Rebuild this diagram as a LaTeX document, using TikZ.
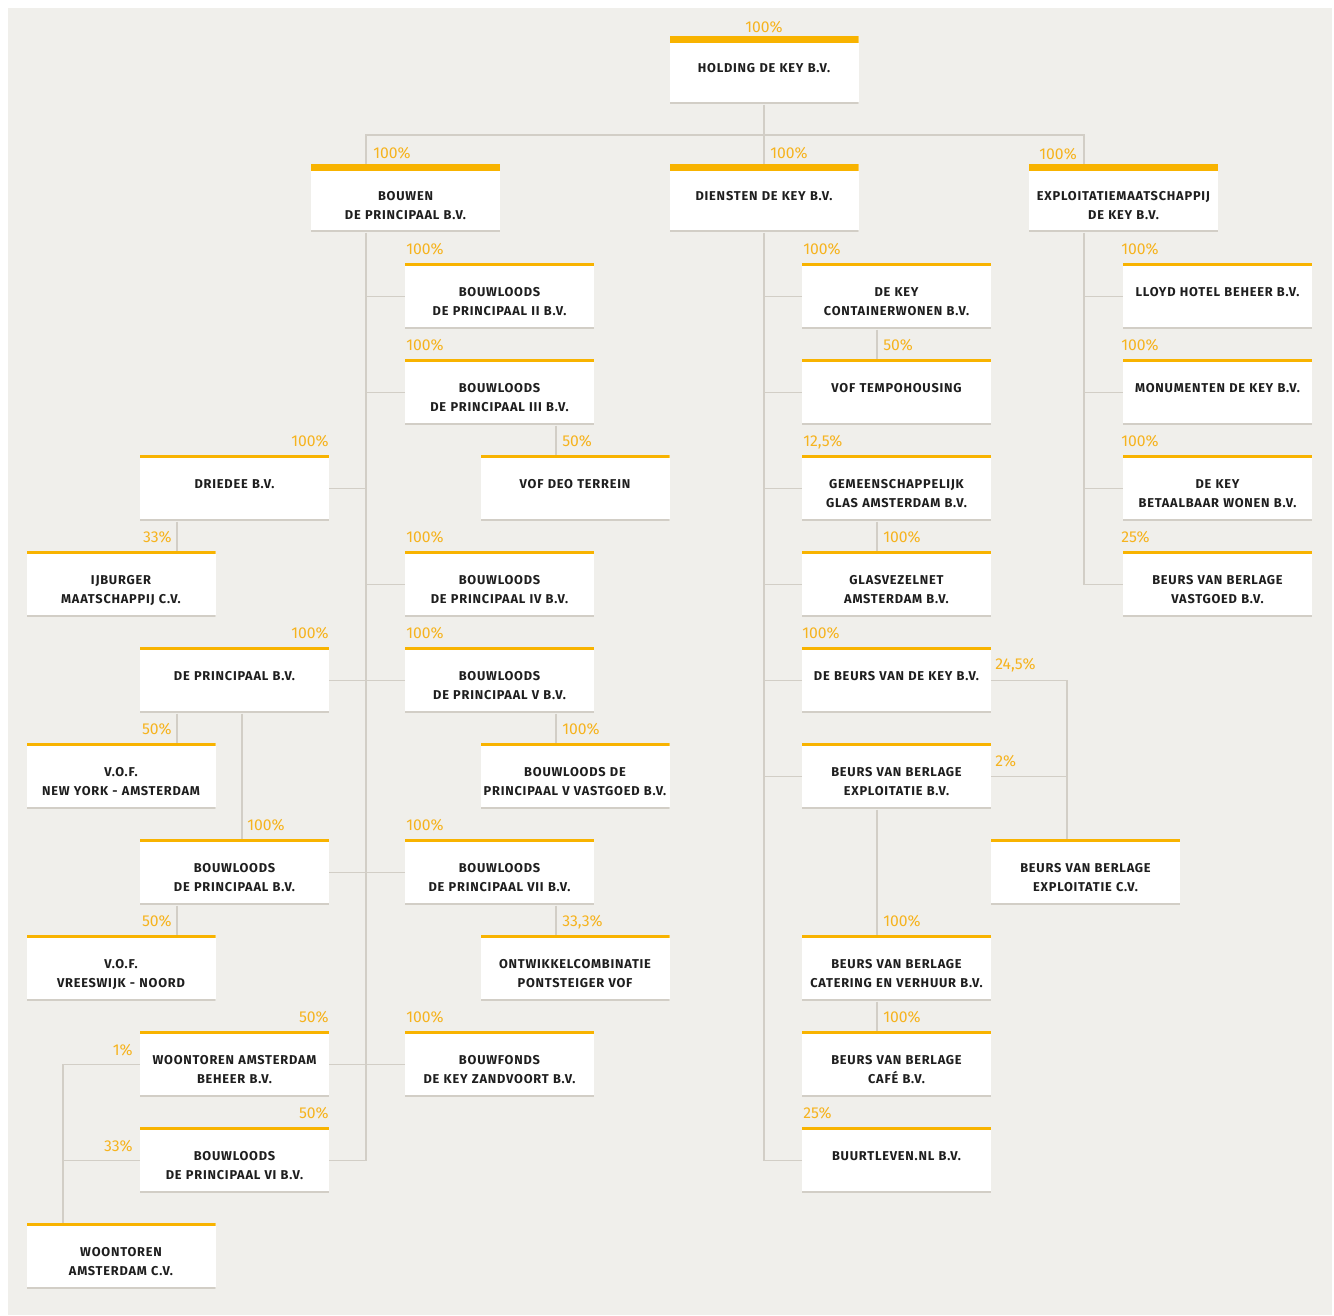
\documentclass[tikz,border=0pt]{standalone}
\usepackage{fontspec}
\setmainfont{Fira Sans}
\newfontfamily\boxfont[LetterSpace=6]{Fira Sans}
\usetikzlibrary{backgrounds}
\pgfdeclarelayer{canvasfill}
\pgfsetlayers{canvasfill,background,main}
\definecolor{bg}{HTML}{F0EFEB}
\definecolor{bar}{HTML}{F8B300}
\definecolor{pctc}{HTML}{F6B31E}
\definecolor{edge}{HTML}{D2CEC6}
\definecolor{txt}{HTML}{1E1E1E}
\begin{document}
\begin{tikzpicture}[x=0.75pt,y=-0.75pt,
  box/.style={anchor=north, fill=white, inner sep=0pt, text width=141.75pt, align=center,
    font=\boxfont\bfseries\fontsize{9.6}{14}\selectfont, text=txt,
    text height=25.2pt, text depth=24.3pt,
    path picture={\fill[bar] (path picture bounding box.north west) rectangle ([yshift=-2.4pt]path picture bounding box.north east);
      \fill[edge] ([yshift=2pt]path picture bounding box.south west) rectangle (path picture bounding box.south east);}},
  bigbox/.style={box, text height=27.4pt, text depth=23.6pt,
    path picture={\fill[bar] (path picture bounding box.north west) rectangle ([yshift=-5.25pt]path picture bounding box.north east);
      \fill[edge] ([yshift=2pt]path picture bounding box.south west) rectangle (path picture bounding box.south east);}},
  pct/.style={inner sep=0pt, text=pctc, font=\fontsize{11.8}{13}\selectfont},
  pw/.style={pct, anchor=base west},
  pe/.style={pct, anchor=base east},
  conn/.style={draw=edge, line width=1.1pt}
]
\useasboundingbox (0,0) rectangle (1334,1315);
\begin{pgfonlayer}{canvasfill}
\fill[bg] (8,8) rectangle (1332,1315);
\end{pgfonlayer}

% ---- top levels
\node[bigbox] (holding) at (764,36) {HOLDING DE KEY B.V.};
\node[bigbox] (bouwen) at (405.5,164) {BOUWEN\\DE PRINCIPAAL B.V.};
\node[bigbox] (diensten) at (764,164) {DIENSTEN DE KEY B.V.};
\node[bigbox] (expl) at (1123.5,164) {EXPLOITATIEMAATSCHAPPIJ\\DE KEY B.V.};

% ---- column C
\node[box] (bII) at (499.5,263) {BOUWLOODS\\DE PRINCIPAAL II B.V.};
\node[box] (bIII) at (499.5,359) {BOUWLOODS\\DE PRINCIPAAL III B.V.};
\node[box] (bIV) at (499.5,551) {BOUWLOODS\\DE PRINCIPAAL IV B.V.};
\node[box] (bV) at (499.5,647) {BOUWLOODS\\DE PRINCIPAAL V B.V.};
\node[box] (bVII) at (499.5,839) {BOUWLOODS\\DE PRINCIPAAL VII B.V.};
\node[box] (bouwfonds) at (499.5,1031) {BOUWFONDS\\DE KEY ZANDVOORT B.V.};
% ---- column D
\node[box] (deo) at (575,455) {VOF DEO TERREIN};
\node[box] (vastgoed) at (575,743) {BOUWLOODS DE\\PRINCIPAAL V VASTGOED B.V.};
\node[box] (ontw) at (575,935) {ONTWIKKELCOMBINATIE\\PONTSTEIGER VOF};
% ---- column B
\node[box] (driedee) at (234.5,455) {DRIEDEE B.V.};
\node[box] (deprin) at (234.5,647) {DE PRINCIPAAL B.V.};
\node[box] (bdp) at (234.5,839) {BOUWLOODS\\DE PRINCIPAAL B.V.};
\node[box] (wab) at (234.5,1031) {WOONTOREN AMSTERDAM\\BEHEER B.V.};
\node[box] (bVI) at (234.5,1127) {BOUWLOODS\\DE PRINCIPAAL VI B.V.};
% ---- column A
\node[box] (ijburger) at (121,551) {IJBURGER\\MAATSCHAPPIJ C.V.};
\node[box] (vofny) at (121,743) {V.O.F.\\NEW YORK - AMSTERDAM};
\node[box] (vofvr) at (121,935) {V.O.F.\\VREESWIJK - NOORD};
\node[box] (wac) at (121,1223) {WOONTOREN\\AMSTERDAM C.V.};
% ---- column E
\node[box] (container) at (896.5,263) {DE KEY\\CONTAINERWONEN B.V.};
\node[box] (tempo) at (896.5,359) {VOF TEMPOHOUSING};
\node[box] (glas) at (896.5,455) {GEMEENSCHAPPELIJK\\GLAS AMSTERDAM B.V.};
\node[box] (glasvezel) at (896.5,551) {GLASVEZELNET\\AMSTERDAM B.V.};
\node[box] (beurskey) at (896.5,647) {DE BEURS VAN DE KEY B.V.};
\node[box] (bvbexp) at (896.5,743) {BEURS VAN BERLAGE\\EXPLOITATIE B.V.};
\node[box] (catering) at (896.5,935) {BEURS VAN BERLAGE\\CATERING EN VERHUUR B.V.};
\node[box] (cafe) at (896.5,1031) {BEURS VAN BERLAGE\\CAFÉ B.V.};
\node[box] (buurt) at (896.5,1127) {BUURTLEVEN.NL B.V.};
% ---- column F
\node[box] (bvbcv) at (1085.5,839) {BEURS VAN BERLAGE\\EXPLOITATIE C.V.};
% ---- column G
\node[box] (lloyd) at (1217.5,263) {LLOYD HOTEL BEHEER B.V.};
\node[box] (monu) at (1217.5,359) {MONUMENTEN DE KEY B.V.};
\node[box] (betaal) at (1217.5,455) {DE KEY\\BETAALBAAR WONEN B.V.};
\node[box] (bvbvg) at (1217.5,551) {BEURS VAN BERLAGE\\VASTGOED B.V.};

% ---- percentages
\node[pct, anchor=base] (p0) at (764,32) {100\%};
\node[pw] (p1) at (373,158) {100\%};
\node[pw] (p2) at (770,158) {100\%};
\node[pe] (p3) at (1077,159.5) {100\%};
\node[pw] (p4) at (406,254.5) {100\%};
\node[pw] (p5) at (406,350.5) {100\%};
\node[pw] (p6) at (562,446.5) {50\%};
\node[pe] (p7) at (329,446.5) {100\%};
\node[pe] (p8) at (172,542.5) {33\%};
\node[pw] (p9) at (406,542.5) {100\%};
\node[pe] (p10) at (329,638.5) {100\%};
\node[pw] (p11) at (406,638.5) {100\%};
\node[pe] (p12) at (172,734.5) {50\%};
\node[pw] (p13) at (562,734.5) {100\%};
\node[pw] (p14) at (247,830.5) {100\%};
\node[pw] (p15) at (406,830.5) {100\%};
\node[pe] (p16) at (172,926.5) {50\%};
\node[pw] (p17) at (562,926.5) {33,3\%};
\node[pe] (p18) at (329,1022.5) {50\%};
\node[pw] (p19) at (406,1022.5) {100\%};
\node[pe] (p20) at (133,1055) {1\%};
\node[pe] (p21) at (329,1118.5) {50\%};
\node[pe] (p22) at (133,1151) {33\%};
\node[pw] (p23) at (803,254.5) {100\%};
\node[pw] (p24) at (883,350.5) {50\%};
\node[pw] (p25) at (803,446.5) {12,5\%};
\node[pw] (p26) at (883,542.5) {100\%};
\node[pw] (p27) at (802,638.5) {100\%};
\node[pw] (p28) at (995,669) {24,5\%};
\node[pw] (p29) at (995,766) {2\%};
\node[pw] (p30) at (883,926.5) {100\%};
\node[pw] (p31) at (883,1022.5) {100\%};
\node[pw] (p32) at (803,1118.5) {25\%};
\node[pw] (p33) at (1121,254.5) {100\%};
\node[pw] (p34) at (1121,350.5) {100\%};
\node[pw] (p35) at (1121,446.5) {100\%};
\node[pw] (p36) at (1121,542.5) {25\%};

% ---- connector guide coordinates
\coordinate (xB) at (366,135);
\coordinate (xE) at (1084,135);
\coordinate (xC) at (556,0);
\coordinate (xA) at (177,0);
\coordinate (xP) at (242,0);
\coordinate (xW) at (63,0);
\coordinate (xK) at (877,0);
\coordinate (xF) at (1067,0);

\begin{pgfonlayer}{background}
\path[conn] (holding.south) -- (holding.south |- xB);
\path[conn] (bouwen.north -| xB) -- (xB) -- (xE) -- (expl.north -| xE);
\path[conn] (diensten.north) -- (diensten.north |- xB);
% Bouwen spine
\path[conn] (bouwen.south -| xB) |- (bVI.east);
\path[conn] (xB |- bII.west) -- (bII.west);
\path[conn] (xB |- bIII.west) -- (bIII.west);
\path[conn] (driedee.east) -- (xB |- driedee.east);
\path[conn] (xB |- bIV.west) -- (bIV.west);
\path[conn] (deprin.east) -- (bV.west);
\path[conn] (bdp.east) -- (bVII.west);
\path[conn] (wab.east) -- (bouwfonds.west);
\path[conn] (xC |- bIII.south) -- (xC |- deo.north);
\path[conn] (xC |- bV.south) -- (xC |- vastgoed.north);
\path[conn] (xC |- bVII.south) -- (xC |- ontw.north);
\path[conn] (xA |- driedee.south) -- (xA |- ijburger.north);
\path[conn] (xA |- deprin.south) -- (xA |- vofny.north);
\path[conn] (xP |- deprin.south) -- (xP |- bdp.north);
\path[conn] (xA |- bdp.south) -- (xA |- vofvr.north);
\path[conn] (wab.west) -| (xW |- wac.north);
\path[conn] (bVI.west) -- (xW |- bVI.west);
% Diensten spine
\path[conn] (diensten.south) |- (buurt.west);
\path[conn] (diensten.south |- container.west) -- (container.west);
\path[conn] (diensten.south |- tempo.west) -- (tempo.west);
\path[conn] (diensten.south |- glas.west) -- (glas.west);
\path[conn] (diensten.south |- glasvezel.west) -- (glasvezel.west);
\path[conn] (diensten.south |- beurskey.west) -- (beurskey.west);
\path[conn] (diensten.south |- bvbexp.west) -- (bvbexp.west);
\path[conn] (xK |- container.south) -- (xK |- tempo.north);
\path[conn] (xK |- glas.south) -- (xK |- glasvezel.north);
\path[conn] (xK |- bvbexp.south) -- (xK |- catering.north);
\path[conn] (xK |- catering.south) -- (xK |- cafe.north);
\path[conn] (beurskey.east) -| (xF |- bvbcv.north);
\path[conn] (bvbexp.east) -- (xF |- bvbexp.east);
% Exploitatie spine
\path[conn] (expl.south -| xE) |- (bvbvg.west);
\path[conn] (xE |- lloyd.west) -- (lloyd.west);
\path[conn] (xE |- monu.west) -- (monu.west);
\path[conn] (xE |- betaal.west) -- (betaal.west);
\end{pgfonlayer}
\end{tikzpicture}
\end{document}
